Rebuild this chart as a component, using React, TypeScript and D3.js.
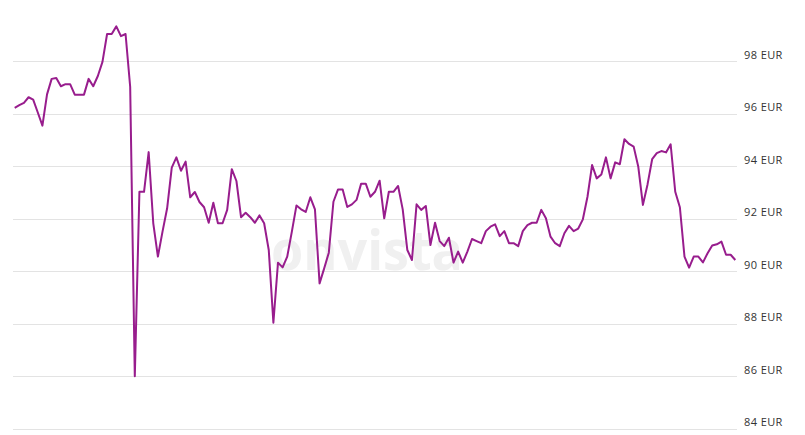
import React from "react";
import * as d3 from "d3";

const prices: number[] = [
  96.23, 96.33, 96.42, 96.63, 96.54, 96.05, 95.55, 96.74, 97.33, 97.36,
  97.05, 97.13, 97.13, 96.73, 96.73, 96.73, 97.33, 97.05, 97.44, 97.98,
  99.04, 99.04, 99.33, 98.96, 99.04, 97.03, 86.0, 93.03, 93.03, 94.54,
  91.83, 90.56, 91.51, 92.4, 93.95, 94.34, 93.83, 94.18, 92.82, 93.02,
  92.64, 92.44, 91.85, 92.61, 91.83, 91.83, 92.34, 93.89, 93.44, 92.06,
  92.23, 92.06, 91.85, 92.13, 91.83, 90.81, 88.04, 90.33, 90.15, 90.56,
  91.51, 92.51, 92.36, 92.26, 92.82, 92.36, 89.54, 90.11, 90.71, 92.65,
  93.12, 93.12, 92.45, 92.55, 92.72, 93.34, 93.34, 92.84, 93.03, 93.45,
  92.02, 93.03, 93.03, 93.25, 92.36, 90.81, 90.43, 92.55, 92.34, 92.49,
  91.0, 91.85, 91.15, 90.96, 91.28, 90.33, 90.75, 90.33, 90.75, 91.23,
  91.15, 91.07, 91.53, 91.7, 91.79, 91.34, 91.53, 91.07, 91.07, 90.96,
  91.53, 91.76, 91.85, 91.85, 92.34, 92.02, 91.32, 91.07, 90.96, 91.45,
  91.73, 91.53, 91.63, 91.98, 92.84, 94.05, 93.54, 93.69, 94.34, 93.54,
  94.15, 94.08, 95.03, 94.85, 94.75, 93.98, 92.53, 93.31, 94.27, 94.5,
  94.58, 94.53, 94.84, 93.03, 92.44, 90.56, 90.14, 90.56, 90.56, 90.34,
  90.69, 90.98, 91.03, 91.13, 90.63, 90.63, 90.43,
];

const yTicks: number[] = [84, 86, 88, 90, 92, 94, 96, 98];
const tickSuffix = " EUR";
const watermark = "onvista";

const W = 805;
const H = 435;

export default function App() {
  const x = d3.scaleLinear().domain([0, prices.length - 1]).range([14.7, 735.3]);
  const y = d3.scaleLinear().domain([84, 98]).range([428.8, 61.3]);
  const line = d3
    .line<number>()
    .x((_, i) => x(i))
    .y((d) => y(d));

  return (
    <svg
      width={W}
      height={H}
      style={{ position: "absolute", left: 0, top: 0, background: "#fff" }}
    >
      <text
        x={271}
        y={270}
        fontFamily="'Open Sans', sans-serif"
        fontWeight={700}
        fontSize={56}
        fill="#f0f0f0"
        textLength={192}
        lengthAdjust="spacingAndGlyphs"
      >
        {watermark}
      </text>
      {yTicks.map((t) => (
        <g key={t}>
          <line
            x1={13}
            x2={737}
            y1={Math.round(y(t)) + 0.5}
            y2={Math.round(y(t)) + 0.5}
            stroke="#e3e3e3"
            strokeWidth={1}
          />
          <text
            x={744}
            y={y(t) - 2.5}
            fontFamily="'Open Sans', sans-serif"
            fontSize={11}
            letterSpacing={0.4}
            fill="#333"
          >
            {t + tickSuffix}
          </text>
        </g>
      ))}
      <path
        d={line(prices) || ""}
        fill="none"
        stroke="#981d8d"
        strokeWidth={2}
        strokeLinejoin="round"
      />
    </svg>
  );
}
